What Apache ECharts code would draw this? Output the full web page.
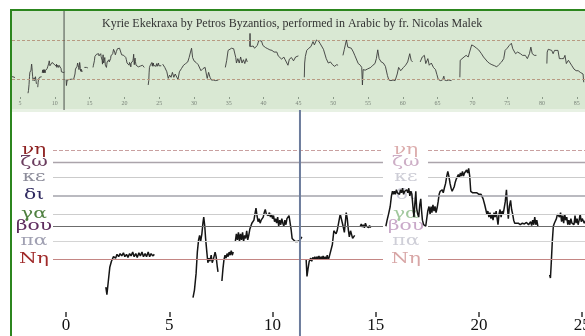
<!DOCTYPE html>
<html>
<head>
<meta charset="utf-8">
<script src="https://cdn.jsdelivr.net/npm/echarts@6/dist/echarts.min.js"></script>
<style>
html, body { margin: 0; padding: 0; background: #ffffff; overflow: hidden; }
#c { width: 600px; height: 336px; }
</style>
</head>
<body>
<div id="c"></div>
<script>
// ---- Text ----
const titleText = 'Kyrie Ekekraxa by Petros Byzantios, performed in Arabic by fr. Nicolas Malek';

// ---- Scale degrees, in moria above the low Νη ----
const degreeNames = ['Νη', 'πα', 'βου', 'γα', 'δι', 'κε', 'ζω', 'νη'];
const degreeMoria = [0, 12, 22, 30, 42, 54, 64, 72];

// ---- Axis ticks (seconds) ----
const timeTicks = [0, 5, 10, 15, 20, 25];
const overviewTicks = [5, 10, 15, 20, 25, 30, 35, 40, 45, 50, 55, 60, 65, 70, 75, 80, 85];
const cursorTime = 11.33;

// ---- Pitch contour, [seconds, moria] ----
const segA = [[1.93,-18],[1.98,-23],[2.05,-14],[2.12,-5],[2.2,-1],[2.3,2],[2.4,1],[2.47,3.5],[2.55,2],[2.62,4],[2.7,2.5],[2.78,4.5],[2.85,2],[2.93,3.5],[3.0,1.5],[3.08,4],[3.15,2.5],[3.23,5],[3.3,2],[3.38,4],[3.45,1.5],[3.53,4.5],[3.6,2.5],[3.68,5],[3.75,2],[3.83,4],[3.9,2],[3.98,5],[4.05,2],[4.12,4],[4.2,2.5],[4.28,3.5]];
const segB = [[6.15,-25],[6.22,-20],[6.3,-9],[6.36,5],[6.42,13],[6.47,16],[6.52,12],[6.58,17],[6.63,24],[6.67,28],[6.72,22],[6.76,14],[6.82,5],[6.87,-2],[6.92,1],[6.97,-1],[7.03,3],[7.08,-2],[7.15,1],[7.22,5],[7.27,2],[7.32,-4],[7.36,-8]];
const segB2 = [[7.55,-14],[7.6,-6],[7.65,0],[7.7,3],[7.75,1],[7.8,4],[7.85,2],[7.9,5],[7.95,3],[8.0,6],[8.05,3],[8.1,5]];
const segC = [[8.2,12],[8.25,17],[8.3,13],[8.35,18],[8.4,12],[8.45,17],[8.5,13],[8.55,18],[8.6,12],[8.65,16],[8.7,14],[8.75,19],[8.8,13],[8.85,16],[8.9,20],[8.95,22],[9.0,24],[9.05,23],[9.1,26],[9.15,30],[9.2,34],[9.25,29],[9.3,25],[9.35,27],[9.4,24],[9.45,26],[9.5,25],[9.55,28],[9.6,31],[9.65,33],[9.7,30],[9.75,31],[9.8,29],[9.85,31],[9.9,28],[9.95,30],[10.0,27],[10.05,29],[10.1,25],[10.15,27],[10.2,24],[10.25,28],[10.3,22],[10.35,26],[10.4,23],[10.45,27],[10.5,24],[10.55,22],[10.6,26],[10.65,23],[10.7,27],[10.75,26],[10.8,29],[10.85,29],[10.9,20],[10.95,14],[11.0,13],[11.1,12],[11.2,12],[11.3,12.5],[11.38,14],[11.42,15]];
const segD = [[11.63,0],[11.67,-11],[11.72,-6],[11.78,-1],[11.85,1],[11.9,-1],[11.95,1.5],[12.0,0],[12.05,2],[12.1,0],[12.15,2],[12.2,0.5],[12.25,2.5],[12.3,0],[12.35,2],[12.4,0.5],[12.45,2.5],[12.5,0],[12.55,2],[12.6,0],[12.65,3],[12.7,0],[12.75,2],[12.82,1],[12.9,10],[12.97,19],[13.03,20],[13.08,17],[13.13,19],[13.2,24],[13.28,30],[13.35,31],[13.42,22],[13.48,18],[13.53,25],[13.57,31],[13.62,27],[13.67,20],[13.72,15],[13.78,19],[13.83,18],[13.88,14],[13.93,13],[13.98,16]];
const segE = [[14.25,22],[14.3,23.5],[14.35,21.5],[14.4,23],[14.45,21],[14.5,24],[14.55,22],[14.6,23],[14.65,21],[14.7,22.5],[14.75,21]];
const segF = [[15.49,22],[15.55,26],[15.62,30],[15.7,35],[15.76,42],[15.81,45],[15.86,43],[15.9,45],[15.95,43],[16.0,46],[16.05,44],[16.1,45],[16.15,43],[16.2,46],[16.25,44],[16.3,47],[16.35,43],[16.4,45],[16.45,44],[16.5,46],[16.55,44],[16.6,47],[16.65,42],[16.7,45],[16.75,43],[16.8,35],[16.85,28],[16.9,38],[16.94,45],[16.98,34],[17.03,30],[17.08,28],[17.13,36],[17.18,40],[17.22,32],[17.26,26],[17.32,23],[17.38,22],[17.42,22],[17.47,27],[17.52,32],[17.58,35],[17.63,30],[17.68,35],[17.72,31],[17.77,36],[17.82,32],[17.87,35],[17.92,31],[17.97,34],[18.02,38],[18.07,43],[18.12,45],[18.17,44],[18.22,46],[18.27,44],[18.32,47],[18.38,50],[18.44,55],[18.49,58],[18.54,55],[18.6,50],[18.65,47],[18.7,45],[18.75,46],[18.8,48],[18.85,51],[18.9,53],[18.95,54],[19.0,56],[19.05,54],[19.1,57],[19.15,55],[19.2,58],[19.25,55],[19.3,57],[19.35,56],[19.4,59],[19.45,57],[19.5,60],[19.55,55],[19.6,45],[19.7,44],[19.8,44],[19.9,44],[20.0,43],[20.1,43],[20.2,40],[20.28,36],[20.33,33],[20.38,30],[20.43,32],[20.48,28],[20.53,31],[20.58,27],[20.63,30],[20.68,26],[20.73,31],[20.78,28],[20.83,32],[20.88,27],[20.92,23],[20.97,30],[21.02,33],[21.07,28],[21.12,32],[21.17,30],[21.22,34],[21.27,38],[21.33,46],[21.38,34],[21.42,27],[21.47,35],[21.53,39],[21.58,33],[21.63,30],[21.68,26],[21.73,24],[21.8,23.5],[21.9,24],[22.0,23],[22.1,24],[22.2,23.5],[22.3,24.5],[22.4,23],[22.5,25],[22.55,22.5],[22.6,26],[22.65,23],[22.7,28],[22.75,23],[22.8,26],[22.85,22]];
const segG = [[23.42,-10],[23.46,-12],[23.5,-2],[23.55,12],[23.6,22],[23.65,24],[23.7,23],[23.75,27],[23.8,30],[23.85,31],[23.9,28],[23.95,31],[24.0,25],[24.05,29],[24.1,24],[24.15,30],[24.2,26],[24.25,28],[24.3,23],[24.35,26],[24.4,23],[24.45,27],[24.5,24],[24.55,25],[24.6,23],[24.65,29],[24.7,24],[24.75,27],[24.8,23],[24.85,26],[24.9,30],[24.95,25],[25.0,27],[25.1,24],[25.2,27],[25.3,25]];

// remainder of the piece, shown only in the overview strip
const ov1 = [[25.5,28],[25.8,22],[26.1,14],[26.3,2],[26.5,8],[26.7,4],[26.9,13],[27.1,4],[27.3,10],[27.5,12],[27.7,0],[27.9,14],[28.2,20],[28.5,26],[28.8,29],[29.1,32],[29.3,40],[29.5,50],[29.65,57],[29.8,40],[30.0,34],[30.3,31],[30.6,27],[30.86,25],[31.0,16],[31.3,20],[31.6,22],[31.8,8],[31.9,2],[32.1,13],[32.3,4],[32.5,-1],[32.8,-1],[33.1,-2],[33.5,-1]];
const ov2 = [[34.5,22],[34.7,35],[34.9,53],[35.1,56],[35.4,57],[35.7,56],[35.9,53],[36.0,40],[36.1,30],[36.3,38],[36.5,30],[36.7,41],[36.9,30],[37.1,36],[37.3,29],[37.5,38],[37.65,32]];
const ov3 = [[38.0,60],[38.05,84],[38.1,60],[38.3,57],[38.5,61],[38.7,57],[38.9,60],[39.1,62],[39.3,71],[39.5,72],[39.7,70],[39.9,62],[40.1,60],[40.3,58],[40.6,56],[40.9,54],[41.2,53],[41.5,50],[41.7,49],[41.9,50],[42.1,43],[42.3,40],[42.6,37],[42.9,41],[43.1,36],[43.3,37],[43.5,26],[43.7,37],[44.0,40],[44.3,34],[44.6,41],[44.8,39],[45.0,43]];
const ov4 = [[45.85,4],[45.9,30],[46.0,42],[46.2,53],[46.5,57],[46.8,60],[47.1,69],[47.3,63],[47.6,72],[47.9,70],[48.1,66],[48.3,63],[48.6,55],[49.0,38],[49.3,30],[49.6,32],[49.9,27],[50.2,24],[50.5,27],[50.7,26]];
const ov5 = [[51.4,44],[51.6,55],[51.9,72],[52.1,59],[52.3,57],[52.6,57],[52.9,50],[53.1,44],[53.3,41],[53.6,29],[53.9,26],[54.1,22],[54.2,-10],[54.3,18],[54.6,17],[54.9,19],[55.1,20],[55.4,22],[55.7,26],[56.0,29],[56.2,38],[56.4,54],[56.6,38],[56.9,32],[57.2,30],[57.5,24],[57.8,7],[58.0,-1],[58.3,-2],[58.6,-1],[58.9,-2],[59.2,10],[59.4,22],[59.7,16],[60.1,22],[60.4,26],[60.7,32],[61.0,47],[61.2,35],[61.4,32]];
const ov6 = [[62.5,32],[62.8,41],[63.1,44],[63.3,29],[63.6,38],[63.8,26],[64.1,30],[64.4,22],[64.7,18],[64.9,9],[65.1,0],[65.4,-2],[65.7,-1],[65.9,6],[66.0,-1],[66.3,-2],[66.6,-1],[67.0,-2]];
const ov7 = [[68.2,4],[68.25,35],[68.5,38],[68.8,41],[69.1,44],[69.4,41],[69.6,50],[69.9,63],[70.2,61],[70.6,57],[70.9,54],[71.3,47],[71.6,41],[71.8,38],[72.2,32],[72.5,29],[72.8,27],[73.2,25],[73.5,23],[73.8,27],[74.2,32],[74.5,38],[74.7,53],[75.0,57],[75.3,62],[75.6,66],[75.8,56],[76.2,47],[76.5,50],[76.9,47],[77.2,44],[77.6,44],[77.9,38],[78.2,47],[78.4,59],[78.6,47],[78.9,44],[79.2,44]];
const ov8 = [[80.7,29],[80.75,50],[80.9,55],[81.1,54],[81.4,53],[81.6,47],[81.8,53],[82.0,55],[82.3,53],[82.5,38],[82.8,38],[83.1,38],[83.3,44],[83.5,29],[83.8,35],[84.0,32],[84.3,25],[84.6,19],[84.9,16],[85.2,16],[85.5,13],[85.9,10],[86.0,-5]];

const detailSegments = [segA, segB, segB2, segC, segD, segE, segF, segG];
const overviewSegments = [ov1, ov2, ov3, ov4, ov5, ov6, ov7, ov8];

// ---- Styling for the degree lines and their labels ----
const degreeLabelColors = ['#a02a2a', '#a0a0b2', '#5e2c5e', '#4f8040', '#2f2a60', '#8c8c9a', '#6a3c5e', '#8e2222'];
const degreeFadedColors = ['#d8a6a6', '#cfcfd8', '#c9a9c9', '#a2c89e', '#ccccd8', '#cdcdd6', '#cdaec6', '#dcadad'];
const degreeLineColors = ['#c48684', '#d4d4d4', '#6c6c6c', '#cdcdcd', '#a3a3ab', '#cbcbcb', '#aba4ab', '#c9a0a0'];
const degreeLineWidths = [1.2, 1, 1.2, 1, 1.6, 1, 1.4, 1];
const degreeLineTypes = ['solid', 'solid', 'solid', 'solid', 'solid', 'solid', 'solid', 'dashed'];

// ---- Plot geometry ----
const detailMin = -0.63, detailMax = 25.86;
const gapStart = 15.35, gapEnd = 17.53, midLabelTime = 16.46;
const overviewMin = 3.85, overviewMax = 86.18;

function joinSegments(segs) {
  const out = [];
  segs.forEach((s, i) => {
    if (i) out.push([s[0][0], '-']);
    s.forEach(p => out.push(p));
  });
  return out;
}

const detailData = joinSegments(detailSegments);
const overviewData = joinSegments(detailSegments.concat(overviewSegments));

const levelSegments = [];
degreeMoria.forEach((m, i) => {
  const ls = { color: degreeLineColors[i], width: degreeLineWidths[i], type: degreeLineTypes[i] };
  levelSegments.push([{ coord: [detailMin, m], lineStyle: ls }, { coord: [gapStart, m] }]);
  levelSegments.push([{ coord: [gapEnd, m], lineStyle: ls }, { coord: [detailMax, m] }]);
});

const serif = '"Liberation Serif", "DejaVu Serif", serif';
const chart = echarts.init(document.getElementById('c'), null, { renderer: 'canvas' });

chart.setOption({
  animation: false,
  backgroundColor: '#ffffff',
  title: {
    text: titleText,
    left: 97, top: 13,
    textStyle: { fontFamily: serif, fontSize: 12, fontWeight: 'normal', color: '#333333' }
  },
  grid: [
    { left: 12, width: 573, top: 11, height: 86 },
    { left: 53, width: 547, top: 111, height: 201 }
  ],
  xAxis: [
    {
      gridIndex: 0, type: 'value', min: overviewMin, max: overviewMax,
      axisLine: { show: false, onZero: false }, splitLine: { show: false },
      axisTick: { show: true, length: 2, lineStyle: { color: '#8a9a88', width: 1 }, customValues: overviewTicks },
      axisLabel: { fontFamily: serif, fontSize: 6, color: '#7a847a', margin: 3, customValues: overviewTicks }
    },
    {
      gridIndex: 1, type: 'value', min: detailMin, max: detailMax,
      axisLine: { show: false, onZero: false }, splitLine: { show: false },
      axisTick: { show: true, length: 5, lineStyle: { color: '#333333', width: 1.5 }, customValues: timeTicks },
      axisLabel: { fontFamily: serif, fontSize: 17, color: '#111111', margin: 5, customValues: timeTicks }
    }
  ],
  yAxis: [
    { gridIndex: 0, type: 'value', min: -31.9, max: 124.8, show: false },
    { gridIndex: 1, type: 'value', min: -34.4, max: 97.8, show: false }
  ],
  series: [
    {
      type: 'line', xAxisIndex: 0, yAxisIndex: 0, data: overviewData,
      showSymbol: false, connectNulls: false, z: 3,
      lineStyle: { color: '#3a3a3a', width: 0.9 },
      markLine: {
        silent: true, symbol: 'none', label: { show: false },
        data: [
          { yAxis: degreeMoria[7], lineStyle: { color: '#b89a82', width: 1, type: [3, 2] } },
          { yAxis: degreeMoria[0], lineStyle: { color: '#b89a82', width: 1, type: [3, 2] } }
        ]
      }
    },
    {
      type: 'line', xAxisIndex: 1, yAxisIndex: 1, data: [],
      z: 1, silent: true,
      markLine: { silent: true, symbol: 'none', label: { show: false }, data: levelSegments }
    },
    {
      type: 'line', xAxisIndex: 1, yAxisIndex: 1, data: detailData,
      showSymbol: false, connectNulls: false, z: 4,
      lineStyle: { color: '#151515', width: 1.5 }
    }
  ]
});

// Degree names, panel background, frame and cursor lines placed through the axes
const graphics = [];
const panelTop = 11, panelBottom = 110;
graphics.push({ type: 'rect', z: -10, silent: true, shape: { x: 12, y: panelTop, width: 600, height: panelBottom - panelTop }, style: { fill: '#d9e8d3' } });
graphics.push({ type: 'rect', z: -10, silent: true, shape: { x: 12, y: panelBottom - 1, width: 600, height: 3 }, style: { fill: '#e8f1e4' } });

const leftLabelX = 34;
const midLabelX = chart.convertToPixel({ xAxisIndex: 1 }, midLabelTime);
degreeNames.forEach((name, i) => {
  const y = chart.convertToPixel({ yAxisIndex: 1 }, degreeMoria[i]);
  graphics.push({
    type: 'text', x: leftLabelX, y: y, z: 1, scaleX: 1.45, silent: true,
    style: { text: name, fill: degreeLabelColors[i], font: '14px "DejaVu Serif", serif', align: 'center', verticalAlign: 'middle' }
  });
  graphics.push({
    type: 'text', x: midLabelX, y: y, z: 1, scaleX: 1.45, silent: true,
    style: { text: name, fill: degreeFadedColors[i], font: '14px "DejaVu Serif", serif', align: 'center', verticalAlign: 'middle' }
  });
});

const cursorTopX = chart.convertToPixel({ xAxisIndex: 0 }, cursorTime);
const cursorLowX = chart.convertToPixel({ xAxisIndex: 1 }, cursorTime);
graphics.push({ type: 'line', z: 20, silent: true, shape: { x1: cursorTopX, y1: 10, x2: cursorTopX, y2: panelBottom }, style: { stroke: '#4a4f4a', lineWidth: 1 } });
graphics.push({ type: 'line', z: 20, silent: true, shape: { x1: cursorLowX, y1: panelBottom, x2: cursorLowX, y2: 340 }, style: { stroke: '#6c7c9c', lineWidth: 2 } });

graphics.push({ type: 'rect', z: 30, silent: true, shape: { x: 11, y: 10, width: 700, height: 500 }, style: { fill: null, stroke: '#2c861e', lineWidth: 2 } });

chart.setOption({ graphic: graphics });
</script>
</body>
</html>
